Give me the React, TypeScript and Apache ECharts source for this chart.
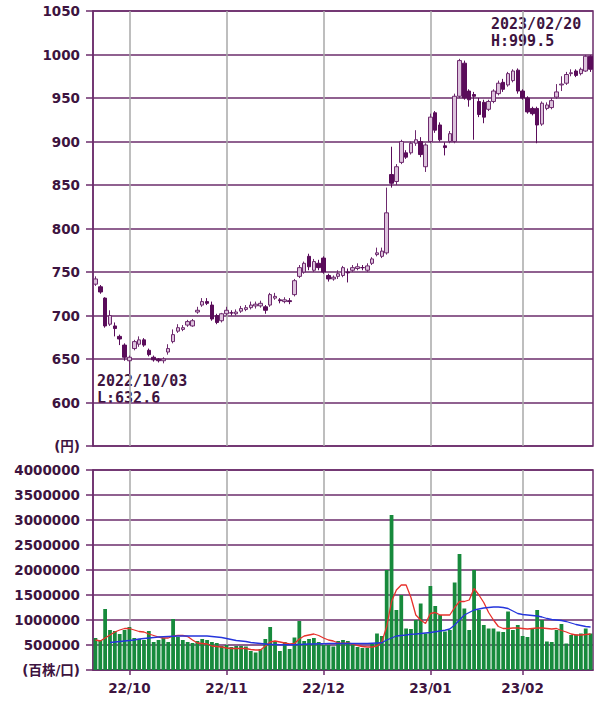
import React, { useEffect, useRef } from 'react';
import * as echarts from 'echarts';

const dates = [
  '2022/09/21','2022/09/22','2022/09/26','2022/09/27','2022/09/28','2022/09/29','2022/09/30',
  '2022/10/03','2022/10/04','2022/10/05','2022/10/06','2022/10/07','2022/10/11','2022/10/12','2022/10/13','2022/10/14','2022/10/17','2022/10/18','2022/10/19','2022/10/20','2022/10/21','2022/10/24','2022/10/25','2022/10/26','2022/10/27','2022/10/28','2022/10/31',
  '2022/11/01','2022/11/02','2022/11/04','2022/11/07','2022/11/08','2022/11/09','2022/11/10','2022/11/11','2022/11/14','2022/11/15','2022/11/16','2022/11/17','2022/11/18','2022/11/21','2022/11/22','2022/11/24','2022/11/25','2022/11/28','2022/11/29','2022/11/30',
  '2022/12/01','2022/12/02','2022/12/05','2022/12/06','2022/12/07','2022/12/08','2022/12/09','2022/12/12','2022/12/13','2022/12/14','2022/12/15','2022/12/16','2022/12/19','2022/12/20','2022/12/21','2022/12/22','2022/12/23','2022/12/26','2022/12/27','2022/12/28','2022/12/29','2022/12/30',
  '2023/01/04','2023/01/05','2023/01/06','2023/01/10','2023/01/11','2023/01/12','2023/01/13','2023/01/16','2023/01/17','2023/01/18','2023/01/19','2023/01/20','2023/01/23','2023/01/24','2023/01/25','2023/01/26','2023/01/27','2023/01/30','2023/01/31',
  '2023/02/01','2023/02/02','2023/02/03','2023/02/06','2023/02/07','2023/02/08','2023/02/09','2023/02/10','2023/02/13','2023/02/14','2023/02/15','2023/02/16','2023/02/17','2023/02/20','2023/02/21',
];

const opens = [
  736, 733, 720, 690, 688, 676, 666, 648, 662, 667,
  672, 660, 652, 650, 648, 658, 670, 682, 684, 689,
  688, 704, 712, 716, 712, 700, 694, 702, 703, 702,
  705, 707, 709, 711, 711, 710, 712, 720, 718, 716,
  717, 724, 745, 750, 768, 752, 760, 766, 746, 742,
  745, 746, 750, 752, 754, 755, 752, 760, 770, 768,
  772, 862, 854, 876, 887, 887, 898, 900, 871, 900,
  933, 919, 895, 900, 900, 952, 990, 958, 954, 946,
  945, 937, 946, 955, 968, 965, 970, 982, 958, 950,
  938, 938, 920, 938, 939, 951, 965, 967, 978, 981,
  978, 981, 998,
];
const closes = [
  742, 727, 688, 700, 685, 673, 652, 652, 670, 672,
  666, 655, 649, 648, 650, 662, 678, 686, 686, 693,
  694, 706, 716, 714, 696, 692, 702, 706, 703, 704,
  708, 709, 712, 713, 714, 706, 724, 722, 717, 718,
  716, 740, 755, 760, 756, 762, 755, 750, 742, 744,
  748, 755, 749, 755, 756, 755, 757, 765, 772, 774,
  818, 852, 871, 900, 882, 898, 902, 885, 896, 928,
  913, 902, 893, 909, 952, 993, 950, 948, 952, 931,
  928, 946, 958, 967, 960, 978, 981, 958, 950, 934,
  932, 919, 944, 942, 947, 957, 966, 977, 979, 976,
  983, 998, 983,
];
const lows = [
  734, 725, 686, 688, 676, 666, 648, 632.6, 660, 664,
  664, 653, 647, 646, 645, 655, 668, 680, 682, 687,
  687, 702, 710, 712, 694, 690, 692, 700, 700, 700,
  703, 705, 707, 708, 709, 702, 710, 718, 714, 714,
  713, 722, 743, 748, 752, 750, 752, 748, 739, 740,
  742, 744, 738, 750, 752, 752, 750, 758, 768, 766,
  770, 847, 850, 874, 880, 885, 895, 882, 865, 898,
  910, 900, 884, 898, 898, 950, 948, 940, 902, 928,
  921, 935, 944, 953, 957, 963, 968, 955, 948, 932,
  930, 898, 918, 936, 937, 949, 958, 965, 975, 974,
  976, 980, 980,
];
const highs = [
  745, 735, 721, 706, 692, 678, 668, 654, 672, 676,
  674, 662, 654, 651, 652, 667, 684, 690, 689, 695,
  696, 710, 720, 720, 716, 702, 703, 710, 706, 707,
  711, 712, 716, 716, 717, 712, 726, 726, 720, 721,
  720, 742, 758, 762, 771, 765, 764, 768, 748, 746,
  752, 757, 754, 758, 760, 758, 760, 767, 778, 778,
  847, 894, 874, 902, 890, 900, 913, 905, 898, 932,
  935, 922, 899, 912, 955, 995, 993, 960, 957, 950,
  948, 948, 960, 970, 972, 980, 983, 984, 960, 952,
  940, 940, 946, 945, 950, 966, 975, 980, 983, 983,
  985, 999.5, 999,
];

const volumes = [
  640000, 600000, 1220000, 800000, 780000, 720000, 800000, 860000, 640000, 620000,
  600000, 780000, 560000, 600000, 640000, 560000, 1020000, 660000, 600000, 560000,
  540000, 580000, 620000, 600000, 560000, 540000, 480000, 500000, 460000, 480000,
  480000, 470000, 380000, 350000, 420000, 620000, 860000, 560000, 380000, 560000,
  420000, 650000, 980000, 580000, 620000, 640000, 560000, 500000, 500000, 470000,
  580000, 600000, 580000, 540000, 460000, 440000, 440000, 520000, 730000, 680000,
  2000000, 3100000, 1200000, 1500000, 830000, 820000, 1000000, 1330000, 730000, 1680000,
  1280000, 1100000, 770000, 800000, 1750000, 2320000, 1230000, 800000, 2000000, 1200000,
  900000, 830000, 830000, 770000, 760000, 1170000, 800000, 900000, 680000, 660000,
  830000, 1200000, 1000000, 570000, 560000, 800000, 920000, 530000, 700000, 710000,
  730000, 830000, 730000,
];

// red line (short moving average of volume)
const volAvgShort = [
  600000, 580000, 640000, 700000, 760000, 800000, 830000, 830000, 800000, 770000,
  760000, 720000, 690000, 660000, 640000, 640000, 680000, 690000, 690000, 670000,
  600000, 540000, 530000, 520000, 480000, 470000, 460000, 440000, 430000, 430000,
  430000, 430000, 410000, 400000, 400000, 480000, 560000, 580000, 560000, 540000,
  520000, 530000, 620000, 680000, 700000, 720000, 690000, 640000, 600000, 580000,
  540000, 530000, 540000, 520000, 490000, 470000, 460000, 460000, 480000, 560000,
  870000, 1370000, 1600000, 1700000, 1700000, 1450000, 1100000, 1000000, 930000, 1130000,
  1150000, 1100000, 1100000, 1100000, 1250000, 1370000, 1370000, 1400000, 1630000, 1500000,
  1350000, 1150000, 1000000, 870000, 830000, 830000, 840000, 840000, 830000, 820000,
  830000, 840000, 840000, 830000, 820000, 830000, 790000, 760000, 720000, 700000,
  700000, 710000, 720000,
];

// blue line (long moving average of volume)
const volAvgLong = [
  null, null, null, 550000, 560000, 570000, 580000, 590000, 600000, 620000,
  630000, 640000, 650000, 660000, 665000, 670000, 675000, 680000, 680000, 680000,
  680000, 680000, 680000, 680000, 670000, 660000, 650000, 630000, 610000, 590000,
  580000, 570000, 550000, 540000, 530000, 520000, 510000, 510000, 505000, 505000,
  505000, 505000, 510000, 515000, 520000, 520000, 525000, 525000, 530000, 530000,
  530000, 530000, 530000, 530000, 530000, 530000, 530000, 535000, 540000, 545000,
  600000, 640000, 680000, 690000, 700000, 715000, 720000, 730000, 740000, 750000,
  765000, 780000, 795000, 820000, 900000, 1000000, 1100000, 1150000, 1200000, 1220000,
  1240000, 1250000, 1260000, 1260000, 1250000, 1230000, 1180000, 1130000, 1110000, 1100000,
  1090000, 1080000, 1060000, 1030000, 1010000, 1000000, 990000, 970000, 940000, 910000,
  890000, 870000, 860000,
];

const monthStarts = ['2022/10/03', '2022/11/01', '2022/12/01', '2023/01/04', '2023/02/01'];

const PURPLE = '#6b2d6b';
const LABEL = '#3d1440';
const GRAY = '#a8a8a8';
const FONT = "'DejaVu Sans', 'Noto Sans CJK JP', sans-serif";
const MONO = "'DejaVu Sans Mono', monospace";

export default function App() {
  const ref = useRef<HTMLDivElement>(null);

  useEffect(() => {
    document.body.style.margin = '0';
    const chart = echarts.init(ref.current!, null, { renderer: 'svg' });

    const maxHigh = Math.max(...highs);
    const hiIdx = highs.indexOf(maxHigh);
    const minLow = Math.min(...lows);
    const loIdx = lows.indexOf(minLow);

    const candleData = dates.map((_, i) => [opens[i], closes[i], lows[i], highs[i]]);

    const axisLabelStyle = {
      color: LABEL,
      fontFamily: FONT,
      fontWeight: 'bold' as const,
      fontSize: 13.5,
    };

    const vLines = (z: number) => ({
      silent: true,
      symbol: ['none', 'none'],
      label: { show: false },
      z,
      animation: false,
      lineStyle: { color: GRAY, width: 1.5, type: 'solid' },
      emphasis: { disabled: true },
      data: monthStarts.map((d) => ({ xAxis: d })),
    });

    const annot = (x: number, y: number, text: string) => ({
      type: 'text',
      x,
      y,
      style: {
        text,
        font: `bold 15px ${MONO}`,
        fill: LABEL,
        textVerticalAlign: 'middle',
        verticalAlign: 'middle',
      },
    });

    chart.setOption({
      animation: false,
      grid: [
        { left: 93, right: 7, top: 11, height: 435, show: true, borderColor: PURPLE, borderWidth: 1.5 },
        { left: 93, right: 7, top: 470, height: 200, show: true, borderColor: PURPLE, borderWidth: 1.5 },
      ],
      xAxis: [
        {
          type: 'category',
          gridIndex: 0,
          data: dates,
          boundaryGap: true,
          axisLine: { show: false },
          axisTick: { show: false },
          axisLabel: { show: false },
          splitLine: { show: false },
        },
        {
          type: 'category',
          gridIndex: 1,
          data: dates,
          boundaryGap: true,
          axisLine: { show: true, lineStyle: { color: PURPLE, width: 1.5 } },
          axisTick: {
            show: true,
            alignWithLabel: true,
            length: 5,
            interval: (_i: number, v: string) => monthStarts.includes(v),
            lineStyle: { color: PURPLE, width: 1.5 },
          },
          axisLabel: {
            ...axisLabelStyle,
            margin: 11,
            interval: (_i: number, v: string) => monthStarts.includes(v),
            formatter: (v: string) => v.slice(2, 7),
          },
          splitLine: { show: false },
        },
      ],
      yAxis: [
        {
          type: 'value',
          gridIndex: 0,
          min: 550,
          max: 1050,
          interval: 50,
          axisLine: { show: true, lineStyle: { color: PURPLE, width: 1.5 } },
          axisTick: { show: true, length: 7, lineStyle: { color: PURPLE, width: 1.5 } },
          axisLabel: {
            ...axisLabelStyle,
            margin: 13,
            formatter: (v: number) => (v === 550 ? '(円)' : String(v)),
          },
          splitLine: { show: true, lineStyle: { color: PURPLE, width: 1.5 } },
        },
        {
          type: 'value',
          gridIndex: 1,
          min: 0,
          max: 4000000,
          interval: 500000,
          axisLine: { show: true, lineStyle: { color: PURPLE, width: 1.5 } },
          axisTick: { show: true, length: 7, lineStyle: { color: PURPLE, width: 1.5 } },
          axisLabel: {
            ...axisLabelStyle,
            margin: 13,
            formatter: (v: number) => (v === 0 ? '(百株/口)' : String(v)),
          },
          splitLine: { show: true, lineStyle: { color: PURPLE, width: 1.5 } },
        },
      ],
      series: [
        {
          type: 'candlestick',
          xAxisIndex: 0,
          yAxisIndex: 0,
          data: candleData,
          barWidth: 4,
          silent: true,
          itemStyle: {
            color: '#dcc2dc',
            color0: '#5a0c5a',
            borderColor: '#6e2a6e',
            borderColor0: '#5a0c5a',
            borderWidth: 1,
          },
          markLine: vLines(1),
        },
        {
          type: 'bar',
          xAxisIndex: 1,
          yAxisIndex: 1,
          data: volumes,
          barCategoryGap: '22%',
          silent: true,
          itemStyle: { color: '#178a3c' },
          markLine: vLines(1),
        },
        {
          type: 'line',
          xAxisIndex: 1,
          yAxisIndex: 1,
          data: volAvgShort,
          symbol: 'none',
          silent: true,
          lineStyle: { color: '#e8312c', width: 1.3 },
        },
        {
          type: 'line',
          xAxisIndex: 1,
          yAxisIndex: 1,
          data: volAvgLong,
          symbol: 'none',
          silent: true,
          lineStyle: { color: '#2535dc', width: 1.3 },
        },
      ],
      graphic: [
        annot(491, 24, dates[hiIdx]),
        annot(491, 41, `H:${maxHigh}`),
        annot(97, 381, dates[loIdx]),
        annot(97, 398, `L:${minLow}`),
      ],
    });

    return () => chart.dispose();
  }, []);

  return <div ref={ref} style={{ width: 600, height: 702 }} />;
}
